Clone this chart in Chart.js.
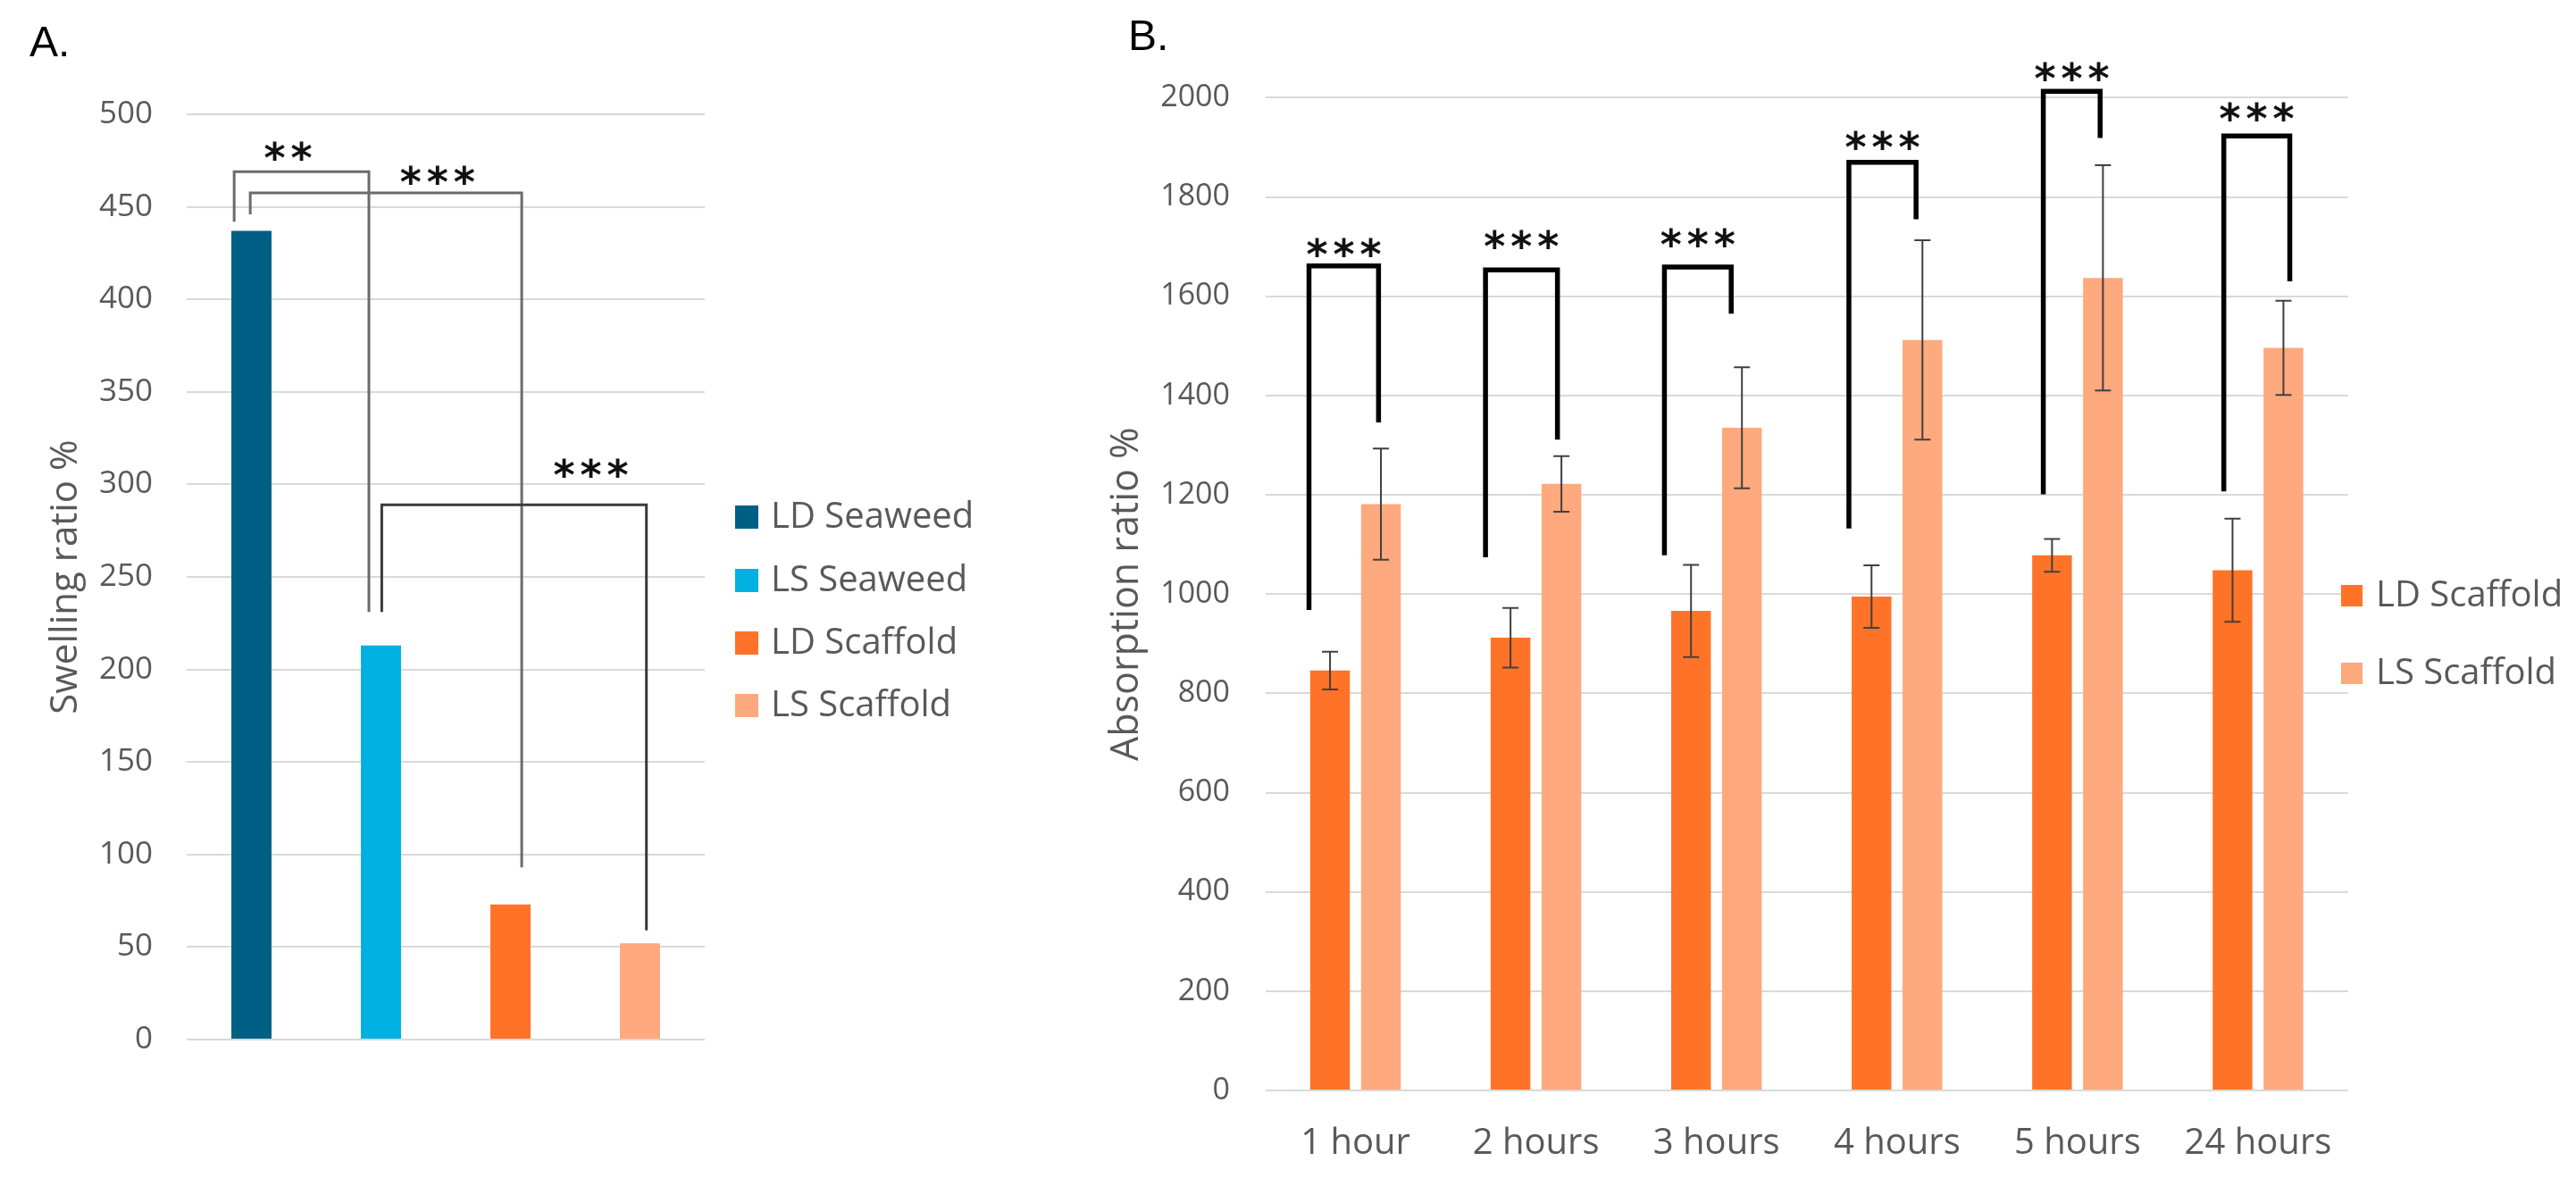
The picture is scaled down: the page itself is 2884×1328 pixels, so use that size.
<!DOCTYPE html>
<html><head><meta charset="utf-8">
<script src="https://cdn.jsdelivr.net/npm/chart.js@4.4.1/dist/chart.umd.min.js"></script>
<style>
html,body{margin:0;padding:0;background:#fff;overflow:hidden;}
#wrap{position:relative;width:2884px;height:1328px;background:#fff;}
canvas{position:absolute;top:0;}
#cA{left:0;} #cB{left:1200px;}
</style></head><body>
<div id="wrap"><canvas id="cA" width="1200" height="1328"></canvas><canvas id="cB" width="1684" height="1328"></canvas></div>
<script>
// ---------- data: panel A ----------
const seriesA = ['LD Seaweed', 'LS Seaweed', 'LD Scaffold', 'LS Scaffold'];
const swellingValues = [437, 213, 73, 52];
const swellingAxis = [0, 500, 50]; // min, max, step
// significance brackets A: [seriesIndexA, seriesIndexB, topValue, endValueA, endValueB, labelValue, label]
const sigA = [
  [0, 1, 469, 442, 231, 480, '**'],
  [0, 2, 457.5, 446, 93, 467, '***'],
  [1, 3, 289, 231, 59, 309, '***']
];

// ---------- data: panel B ----------
const timeCategories = ['1 hour', '2 hours', '3 hours', '4 hours', '5 hours', '24 hours'];
const ldScaffold = [846, 912, 966, 995, 1078, 1048];
const ldScaffoldErr = [38, 60, 93, 63, 33, 104];
const lsScaffold = [1181, 1222, 1335, 1512, 1637, 1496];
const lsScaffoldErr = [112, 56, 122, 201, 227, 95];
const absorptionAxis = [0, 2000, 200];
// significance brackets B per category: topValue, endValue LD, endValue LS, labelValue
const sigBTop = [1661, 1653, 1659, 1870, 2013, 1923];
const sigBEndLD = [968, 1074, 1078, 1132, 1201, 1207];
const sigBEndLS = [1346, 1311, 1565, 1755, 1919, 1630];
const sigBLabelAt = [1698, 1714, 1719, 1914, 2052, 1972];
const sigBText = ['***', '***', '***', '***', '***', '***'];

// ---------- styling / layout (not data) ----------
const colorsA = ['#005f85', '#00b0e0', '#ff7329', '#ffa97e'];
const colorsB = ['#ff7329', '#ffa97e'];
const TXT = '#595959';
const GRID = '#d9d9d9';
const FONT = 'Open Sans';
// bracket leg offsets, in bar widths, relative to bar centres
const layoutA = [
  {offA: -0.43, offB: -0.30, tx: 0.40, color: '#6b6b6b', w: 3},
  {offA: -0.03, offB: 0.28, tx: 0.69, color: '#6b6b6b', w: 3},
  {offA: 0.02, offB: 0.16, tx: 0.79, color: '#3a3a3a', w: 3}
];
const layoutBOffLD = [-0.53, -0.63, -0.67, -0.57, -0.22, -0.22];
const layoutBOffLS = [-0.06, -0.10, -0.27, -0.16, -0.07, 0.16];

function drawStars(ctx, text, cx, cy) {
  ctx.save();
  ctx.font = 'bold 46px "DejaVu Sans"';
  ctx.fillStyle = '#111';
  ctx.textAlign = 'center';
  ctx.textBaseline = 'alphabetic';
  const m = ctx.measureText('*');
  const off = (m.actualBoundingBoxAscent - m.actualBoundingBoxDescent) / 2;
  const n = text.length;
  for (let i = 0; i < n; i++) ctx.fillText('*', cx + (i - (n - 1) / 2) * 30, cy + off);
  ctx.restore();
}
function drawBracket(ctx, xL, xR, yTop, yL, yR, color, w) {
  ctx.save();
  ctx.strokeStyle = color; ctx.lineWidth = w; ctx.lineJoin = 'miter'; ctx.lineCap = 'butt';
  ctx.beginPath(); ctx.moveTo(xL, yL); ctx.lineTo(xL, yTop); ctx.lineTo(xR, yTop); ctx.lineTo(xR, yR); ctx.stroke();
  ctx.restore();
}
function drawLegend(ctx, chart, x, ys, box, textX) {
  ctx.save();
  ctx.font = '40px "' + FONT + '"';
  ctx.textBaseline = 'middle';
  ctx.textAlign = 'left';
  chart.data.datasets.forEach((ds, i) => {
    ctx.fillStyle = ds.backgroundColor;
    ctx.fillRect(x, ys[i] - box / 2, box, box);
    ctx.fillStyle = TXT;
    ctx.fillText(ds.label, textX, ys[i] + 1);
  });
  ctx.restore();
}
function drawPanelLabel(ctx, text, x, y) {
  ctx.save(); ctx.font = '48px "Liberation Sans"'; ctx.fillStyle = '#000'; ctx.textBaseline = 'alphabetic'; ctx.textAlign = 'left';
  ctx.fillText(text, x, y); ctx.restore();
}
const plainTick = v => String(v);

// ---------- chart A ----------
const annotA = {
  id: 'annotA',
  afterDatasetsDraw(chart) {
    const ctx = chart.ctx, ys = chart.scales.y;
    sigA.forEach((s, k) => {
      const L = layoutA[k];
      const ba = chart.getDatasetMeta(s[0]).data[0], bb = chart.getDatasetMeta(s[1]).data[0];
      const xL = ba.x + L.offA * ba.width, xR = bb.x + L.offB * bb.width;
      drawBracket(ctx, xL, xR, ys.getPixelForValue(s[2]), ys.getPixelForValue(s[3]), ys.getPixelForValue(s[4]), L.color, L.w);
      drawStars(ctx, s[6], xL + (xR - xL) * L.tx, ys.getPixelForValue(s[5]));
    });
    drawLegend(ctx, chart, 823, [579, 650, 720, 790], 26, 863);
    drawPanelLabel(ctx, 'A.', 33, 63);
  }
};
new Chart(document.getElementById('cA'), {
  type: 'bar',
  data: {
    labels: [''],
    datasets: seriesA.map((name, i) => ({label: name, data: [swellingValues[i]], backgroundColor: colorsA[i]}))
  },
  options: {
    responsive: false, animation: false, devicePixelRatio: 1,
    layout: {padding: {left: 0, right: 411, top: 128, bottom: 164}},
    datasets: {bar: {categoryPercentage: 1.0, barPercentage: 0.31}},
    plugins: {legend: {display: false}, tooltip: {enabled: false}},
    scales: {
      x: {display: false},
      y: {
        min: swellingAxis[0], max: swellingAxis[1],
        ticks: {stepSize: swellingAxis[2], color: TXT, font: {family: FONT, size: 35}, padding: 38, callback: plainTick},
        grid: {color: GRID, lineWidth: 2, drawTicks: false},
        border: {display: false},
        title: {display: true, text: 'Swelling ratio %', color: TXT, font: {family: FONT, size: 42}, padding: {top: 49, bottom: 0}},
        afterFit: s => { s.width = 209; }
      }
    }
  },
  plugins: [annotA]
});

// ---------- chart B ----------
const errorsB = [ldScaffoldErr, lsScaffoldErr];
const annotB = {
  id: 'annotB',
  afterDatasetsDraw(chart) {
    const ctx = chart.ctx, ys = chart.scales.y;
    // error bars
    ctx.save();
    ctx.strokeStyle = '#404040'; ctx.lineWidth = 2;
    chart.data.datasets.forEach((ds, i) => {
      chart.getDatasetMeta(i).data.forEach((bar, j) => {
        const v = ds.data[j], e = errorsB[i][j];
        const y1 = ys.getPixelForValue(v + e), y2 = ys.getPixelForValue(v - e);
        ctx.beginPath();
        ctx.moveTo(bar.x, y1); ctx.lineTo(bar.x, y2);
        ctx.moveTo(bar.x - 9, y1); ctx.lineTo(bar.x + 9, y1);
        ctx.moveTo(bar.x - 9, y2); ctx.lineTo(bar.x + 9, y2);
        ctx.stroke();
      });
    });
    ctx.restore();
    // significance brackets
    const mL = chart.getDatasetMeta(0).data, mS = chart.getDatasetMeta(1).data;
    timeCategories.forEach((c, j) => {
      const xL = mL[j].x + layoutBOffLD[j] * mL[j].width;
      const xR = mS[j].x + layoutBOffLS[j] * mS[j].width;
      drawBracket(ctx, xL, xR, ys.getPixelForValue(sigBTop[j]), ys.getPixelForValue(sigBEndLD[j]), ys.getPixelForValue(sigBEndLS[j]), '#000', 5.5);
      drawStars(ctx, sigBText[j], (xL + xR) / 2, ys.getPixelForValue(sigBLabelAt[j]));
    });
    drawLegend(ctx, chart, 1421, [667, 754], 24, 1460);
    drawPanelLabel(ctx, 'B.', 63, 56);
  }
};
new Chart(document.getElementById('cB'), {
  type: 'bar',
  data: {
    labels: timeCategories,
    datasets: [
      {label: 'LD Scaffold', data: ldScaffold, backgroundColor: colorsB[0]},
      {label: 'LS Scaffold', data: lsScaffold, backgroundColor: colorsB[1]}
    ]
  },
  options: {
    responsive: false, animation: false, devicePixelRatio: 1,
    layout: {padding: {left: 0, right: 255, top: 109.4, bottom: 0}},
    datasets: {bar: {categoryPercentage: 0.564, barPercentage: 0.78}},
    plugins: {legend: {display: false}, tooltip: {enabled: false}},
    scales: {
      x: {
        grid: {display: false}, border: {display: false},
        ticks: {color: TXT, font: {family: FONT, size: 40}, padding: 28, maxRotation: 0, autoSkip: false},
        afterFit: s => { s.height = 107; }
      },
      y: {
        min: absorptionAxis[0], max: absorptionAxis[1],
        ticks: {stepSize: absorptionAxis[2], color: TXT, font: {family: FONT, size: 34}, padding: 39.5, callback: plainTick},
        grid: {color: GRID, lineWidth: 2, drawTicks: false},
        border: {display: false},
        title: {display: true, text: 'Absorption ratio %', color: TXT, font: {family: FONT, size: 43}, padding: {top: 36, bottom: 0}},
        afterFit: s => { s.width = 216.5; }
      }
    }
  },
  plugins: [annotB]
});
</script>
</body></html>
